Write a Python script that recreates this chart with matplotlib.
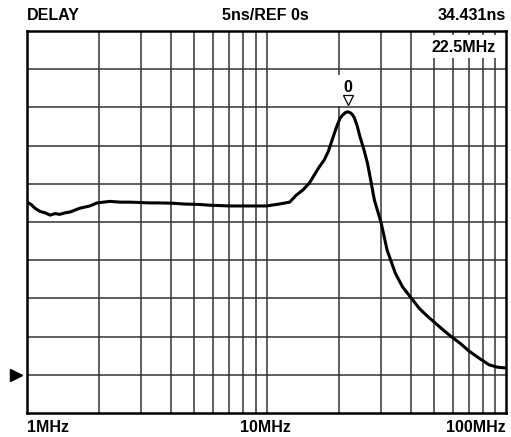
import numpy as np
import matplotlib.pyplot as plt
import matplotlib.transforms as mtransforms

plt.rcParams['font.family'] = ['Liberation Sans', 'DejaVu Sans']

# group delay trace
freq_mhz = [1.0, 1.04, 1.08, 1.13, 1.19, 1.25, 1.31, 1.37, 1.44, 1.51, 1.66,
            1.83, 1.96, 2.22, 2.45, 2.69, 3.25, 3.58, 4.1, 4.55, 5.2, 5.79,
            7.01, 8.5, 10.0, 11.3, 12.5, 13.3, 14.2, 15.1, 16.6, 17.4, 18.1,
            19.2, 19.75, 20.3, 20.8, 21.3, 21.8, 22.4, 22.9, 23.3, 23.9, 24.6,
            25.5, 26.4, 27.3, 28.2, 30.1, 31.9, 34.5, 37.0, 40.2, 43.4, 46.5,
            50.1, 54.5, 59.6, 64.5, 70.1, 77.0, 85.0, 92.0, 99.0]
delay_ns = [22.6, 22.3, 21.8, 21.4, 21.2, 20.9, 21.1, 21.0, 21.2, 21.3, 21.8,
            22.1, 22.5, 22.7, 22.6, 22.6, 22.5, 22.5, 22.45, 22.35, 22.3, 22.2,
            22.1, 22.1, 22.1, 22.35, 22.6, 23.5, 24.2, 25.1, 27.2, 28.1, 29.2,
            31.6, 32.7, 33.6, 34.0, 34.3, 34.43, 34.3, 34.0, 33.6, 32.6, 31.1,
            29.5, 27.7, 25.3, 22.9, 19.9, 16.3, 13.3, 11.5, 10.05, 8.7, 7.8,
            6.9, 5.9, 4.9, 4.1, 3.1, 2.2, 1.3, 1.0, 0.9]

marker_freq = 21.8
marker_delay = 34.43
marker_label = '22.5MHz'
header = ['DELAY', '5ns/REF 0s', '34.431ns']
xlabels = ['1MHz', '10MHz', '100MHz']

fs = 11.5

fig = plt.figure(figsize=(5.11, 4.37), dpi=100)
ax = fig.add_axes([27 / 511, 24 / 437, 479 / 511, 382 / 437])

ax.set_xscale('log')
ax.set_xlim(1, 100)
ax.set_ylim(-5, 45)

# grid: 1-2-...-9 per decade, 5ns per division
vlines = [m * d for d in (1, 10) for m in range(1, 10)]
for v in vlines:
    ax.axvline(v, color='#333333', lw=1.1, zorder=1)
for h in np.arange(0, 45, 5):
    ax.axhline(h, color='#333333', lw=1.1, zorder=1)

ax.plot(freq_mhz, delay_ns, color='black', lw=2.2, zorder=4,
        solid_capstyle='round', solid_joinstyle='round')

# marker readout
ax.fill_between([19.6, 24.2], marker_delay + 0.7, marker_delay + 4.8,
                color='white', zorder=2, lw=0)
ax.text(marker_freq, marker_delay + 3.2, '0', ha='center', va='center',
        fontsize=fs, fontweight='bold', zorder=3)
ax.plot([marker_freq], [marker_delay + 1.5], marker='v', ms=7, mfc='white',
        mec='black', mew=0.9, zorder=5, ls='none')

ax.fill_between([0.816, 0.996], 0.929, 0.990, transform=ax.transAxes,
                color='white', zorder=2, lw=0)
ax.text(0.911, 0.958, marker_label, transform=ax.transAxes, ha='center',
        va='center', fontsize=fs, fontweight='bold', zorder=3)

# reference level arrow on the left edge
trans = mtransforms.blended_transform_factory(ax.transAxes, ax.transData)
ax.plot([-0.022], [0], marker='>', ms=8, color='black', transform=trans,
        clip_on=False, ls='none')

ax.set_xticks([])
ax.set_yticks([])
ax.minorticks_off()
for s in ax.spines.values():
    s.set_linewidth(1.8)
    s.set_zorder(6)

fig.text(27 / 511, 1 - 15 / 437, header[0], ha='left', va='center',
         fontsize=fs, fontweight='bold')
fig.text(265 / 511, 1 - 15 / 437, header[1], ha='center', va='center',
         fontsize=fs, fontweight='bold')
fig.text(506 / 511, 1 - 15 / 437, header[2], ha='right', va='center',
         fontsize=fs, fontweight='bold')
fig.text(27 / 511, 1 - 428 / 437, xlabels[0], ha='left', va='center',
         fontsize=fs, fontweight='bold')
fig.text(265 / 511, 1 - 428 / 437, xlabels[1], ha='center', va='center',
         fontsize=fs, fontweight='bold')
fig.text(506 / 511, 1 - 428 / 437, xlabels[2], ha='right', va='center',
         fontsize=fs, fontweight='bold')

fig.savefig('out.png', dpi=100)
